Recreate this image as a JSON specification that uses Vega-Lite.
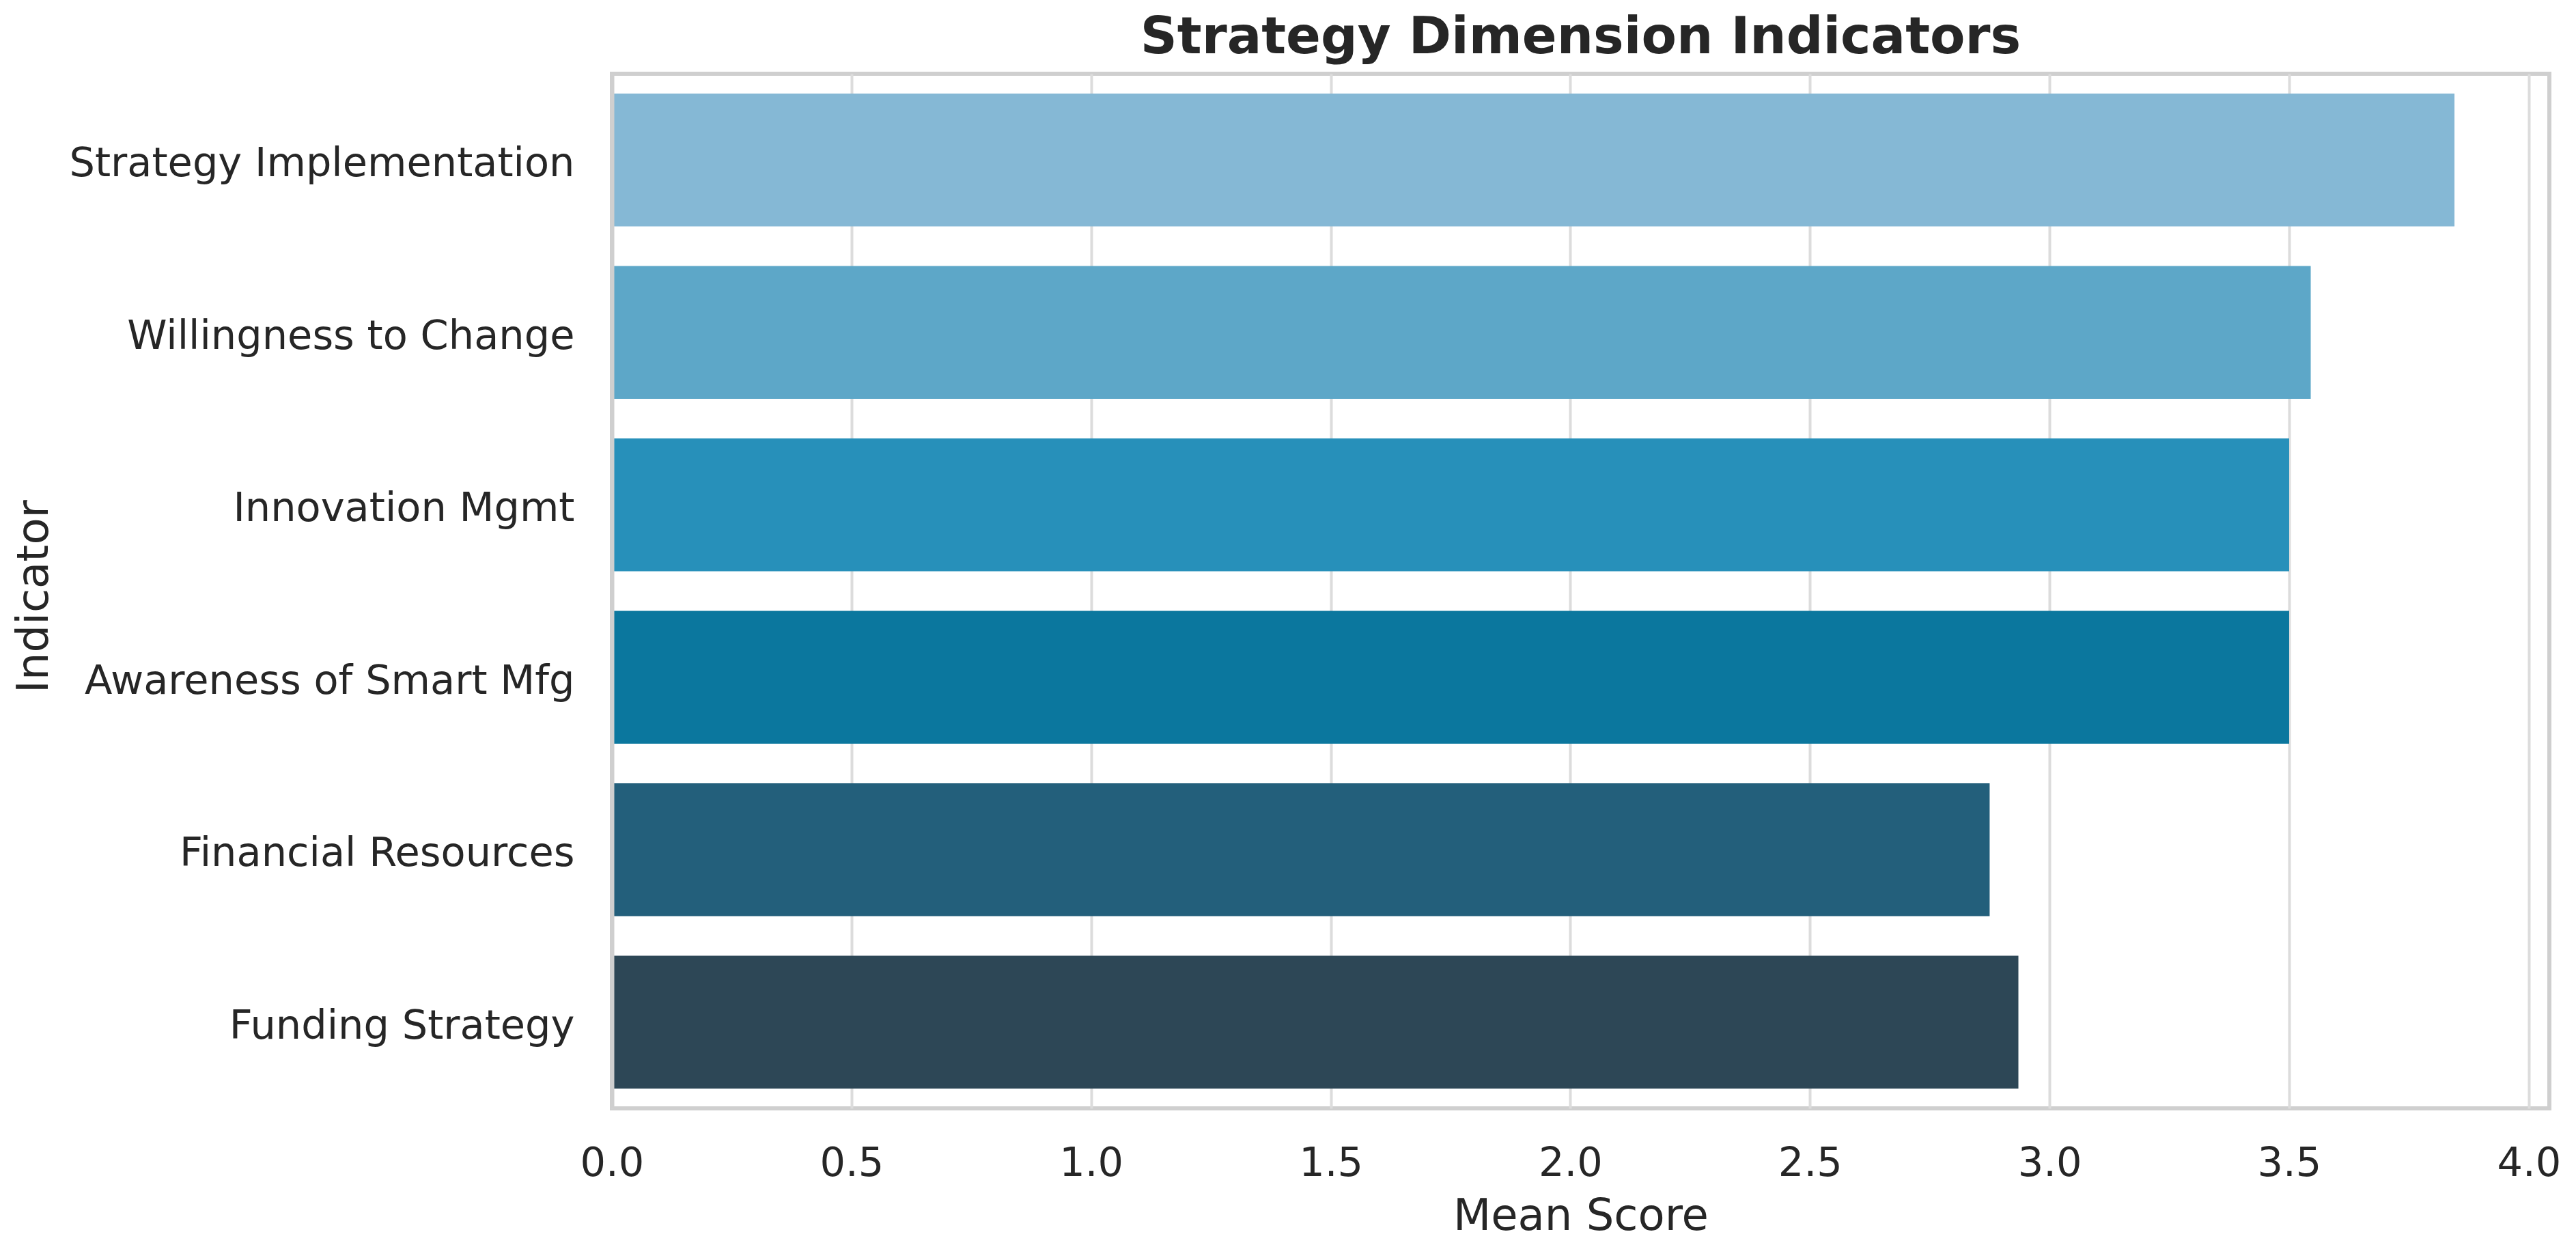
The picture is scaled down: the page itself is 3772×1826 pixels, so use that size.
{
  "$schema": "https://vega.github.io/schema/vega-lite/v6.json",
  "autosize": {"type": "none"},
  "padding": {"left": 896, "top": 108, "right": 39, "bottom": 203},
  "width": 2837,
  "height": 1515,
  "background": "white",
  "title": {
    "text": "Strategy Dimension Indicators",
    "font": "DejaVu Sans",
    "fontSize": 75,
    "fontWeight": "bold",
    "color": "#262626",
    "anchor": "middle",
    "frame": "group",
    "baseline": "alphabetic",
    "offset": 18,
    "dy": 63
  },
  "config": {
    "view": {"stroke": "#cfcfcf", "strokeWidth": 6},
    "font": "DejaVu Sans"
  },
  "data": {
    "values": [
      {"Indicator": "Strategy Implementation", "Mean Score": 3.845},
      {"Indicator": "Willingness to Change", "Mean Score": 3.545},
      {"Indicator": "Innovation Mgmt", "Mean Score": 3.5},
      {"Indicator": "Awareness of Smart Mfg", "Mean Score": 3.5},
      {"Indicator": "Financial Resources", "Mean Score": 2.875},
      {"Indicator": "Funding Strategy", "Mean Score": 2.935}
    ]
  },
  "mark": {"type": "bar", "orient": "horizontal"},
  "encoding": {
    "y": {
      "field": "Indicator",
      "type": "nominal",
      "sort": null,
      "scale": {"paddingInner": 0.23, "paddingOuter": 0.115},
      "axis": {
        "title": "Indicator",
        "titleFont": "DejaVu Sans",
        "titleFontSize": 64,
        "titleFontWeight": "normal",
        "titleColor": "#262626",
        "titleAngle": -90,
        "titleX": -846,
        "titleY": 765,
        "titleAlign": "center",
        "titleBaseline": "middle",
        "labelFont": "DejaVu Sans",
        "labelFontSize": 59,
        "labelColor": "#262626",
        "labelPadding": 55,
        "labelOffset": 6,
        "labelLimit": 2000,
        "ticks": false,
        "domain": true,
        "domainColor": "#cfcfcf",
        "domainWidth": 6,
        "zindex": 1,
        "grid": false
      }
    },
    "x": {
      "field": "Mean Score",
      "type": "quantitative",
      "scale": {"domain": [0, 4.043], "nice": false, "zero": true},
      "axis": {
        "title": "Mean Score",
        "titleFont": "DejaVu Sans",
        "titleFontSize": 64,
        "titleFontWeight": "normal",
        "titleColor": "#262626",
        "titleY": 158,
        "titleBaseline": "middle",
        "values": [0, 0.5, 1, 1.5, 2, 2.5, 3, 3.5, 4],
        "format": ".1f",
        "labelFont": "DejaVu Sans",
        "labelFontSize": 59,
        "labelColor": "#262626",
        "labelBaseline": "middle",
        "labelPadding": 80,
        "labelFlush": false,
        "labelOverlap": false,
        "ticks": false,
        "domain": false,
        "grid": true,
        "gridColor": "#dcdcdc",
        "gridWidth": 4
      }
    },
    "color": {
      "field": "Indicator",
      "type": "nominal",
      "sort": null,
      "scale": {
        "domain": ["Strategy Implementation", "Willingness to Change", "Innovation Mgmt", "Awareness of Smart Mfg", "Financial Resources", "Funding Strategy"],
        "range": ["#85b8d5", "#5da7c8", "#2790ba", "#0b779e", "#235f7b", "#2d4756"]
      },
      "legend": null
    }
  }
}
